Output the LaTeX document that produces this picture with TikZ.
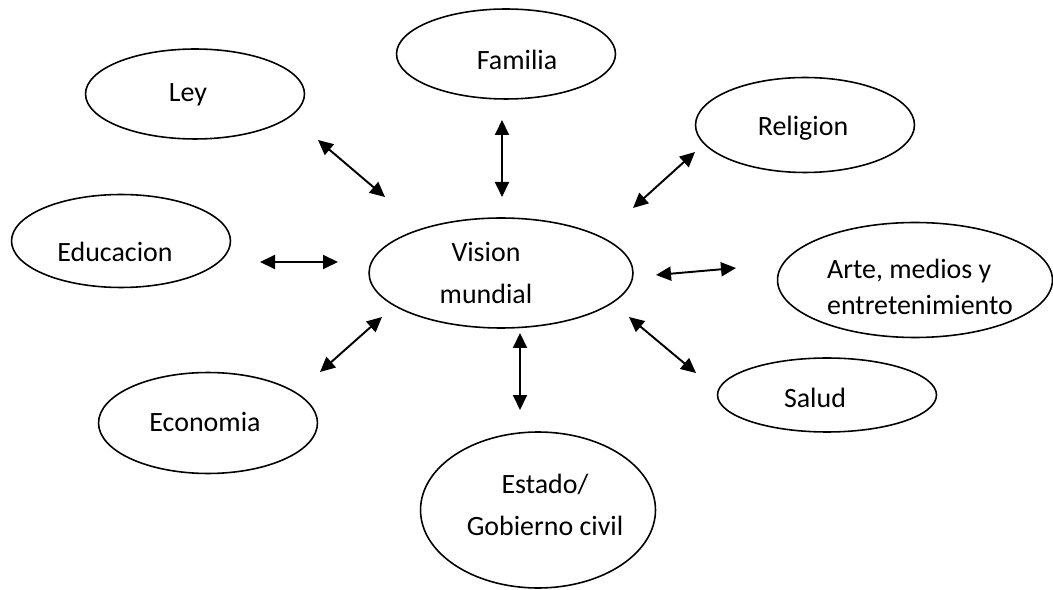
\documentclass[tikz,border=0pt]{standalone}
\usepackage{fontspec}
\setmainfont{Carlito}
\usetikzlibrary{shapes.geometric,arrows.meta}

\tikzset{
  bubble/.style={draw, ellipse, line width=0.9pt, inner sep=0pt, minimum width=4.38cm},
  word/.style={font=\fontsize{15.9}{23.8}\selectfont, inner sep=0pt},
  link/.style={{Triangle[length=3mm,width=2.8mm]}-{Triangle[length=3mm,width=2.8mm]}, line width=1.1pt}
}

\begin{document}
\begin{tikzpicture}[x=0.02cm,y=-0.02cm]
    \useasboundingbox (0,0) rectangle (1053,590);
    % centre
    \node[bubble, minimum width=5.28cm, minimum height=2.2cm] (vision) at (501,273) {};
    \node[word, align=center] (vision-txt) at (486,273) {Vision\\mundial};
    % bubbles around it
    \node[bubble, minimum height=1.8cm] (ley) at (195,94) {};
    \node[word] (ley-txt) at (188,95) {Ley};
    \node[bubble, minimum height=1.8cm] (familia) at (506,54) {};
    \node[word] (familia-txt) at (517,60) {Familia};
    \node[bubble, minimum height=1.9cm] (religion) at (805,125) {};
    \node[word] (religion-txt) at (803,128) {Religion};
    \node[bubble, minimum height=1.86cm] (educacion) at (121,241) {};
    \node[word] (educacion-txt) at (115,252) {Educacion};
    \node[bubble, minimum width=5.5cm, minimum height=2.3cm] (arte) at (915,280) {};
    \node[word, align=left, font=\fontsize{15.9}{20.4}\selectfont] (arte-txt) at (920,287) {Arte, medios y\\entretenimiento};
    \node[bubble, minimum height=1.48cm] (salud) at (827,395) {};
    \node[word] (salud-txt) at (815,398) {Salud};
    \node[bubble, minimum height=2.02cm] (economia) at (208,423) {};
    \node[word] (economia-txt) at (205,422) {Economia};
    \node[bubble, minimum width=4.7cm, minimum height=3.12cm] (estado) at (538,510) {};
    \node[word, align=center] (estado-txt) at (545,505) {Estado/\\Gobierno civil};
    % arrow ends
    \coordinate (ley-a) at (318,140);       \coordinate (ley-b) at (385,197);
    \coordinate (familia-a) at (502,120);   \coordinate (familia-b) at (502,197);
    \coordinate (religion-a) at (695,152);  \coordinate (religion-b) at (633,208);
    \coordinate (educacion-a) at (260,262); \coordinate (educacion-b) at (338,262);
    \coordinate (arte-a) at (656,275);      \coordinate (arte-b) at (736,268);
    \coordinate (economia-a) at (382,317);  \coordinate (economia-b) at (320,372);
    \coordinate (estado-a) at (520,333);    \coordinate (estado-b) at (520,410);
    \coordinate (salud-a) at (629,317);     \coordinate (salud-b) at (696,373);
    % double arrows
    \draw[link] (ley-a) -- (ley-b);
    \draw[link] (familia-a) -- (familia-b);
    \draw[link] (religion-a) -- (religion-b);
    \draw[link] (educacion-a) -- (educacion-b);
    \draw[link] (arte-a) -- (arte-b);
    \draw[link] (economia-a) -- (economia-b);
    \draw[link] (estado-a) -- (estado-b);
    \draw[link] (salud-a) -- (salud-b);
\end{tikzpicture}
\end{document}
